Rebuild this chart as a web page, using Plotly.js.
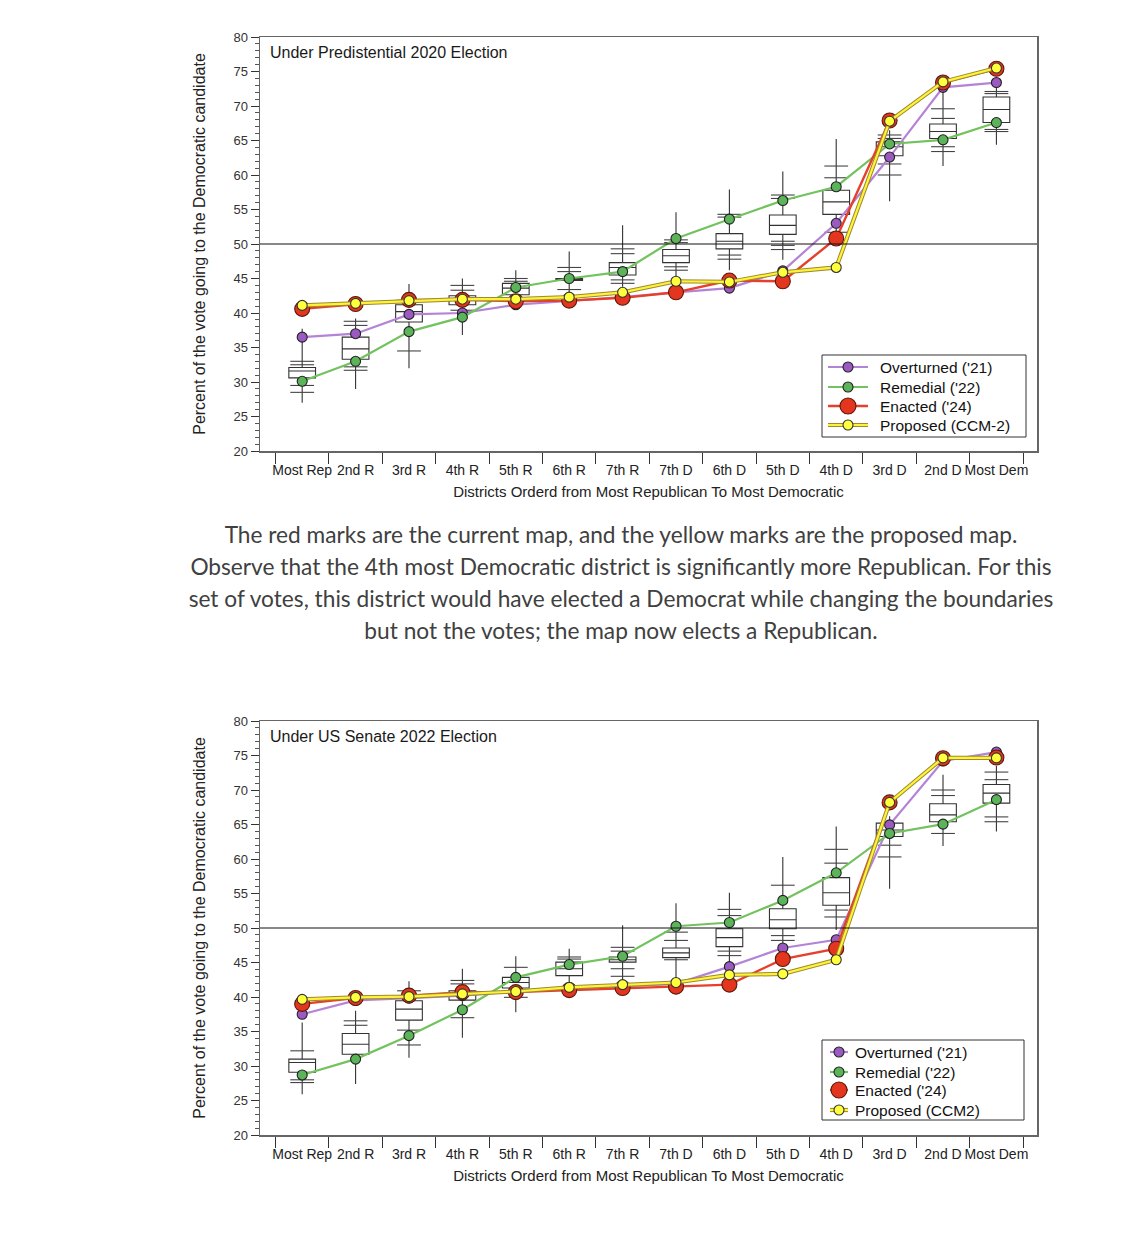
<!DOCTYPE html>
<html>
<head>
<meta charset="utf-8">
<script src="https://cdn.plot.ly/plotly-3.0.1.min.js"></script>
<style>
  html, body { margin: 0; padding: 0; background: #ffffff; width: 1140px; height: 1241px; overflow: hidden; }
  #chart1 { position: absolute; left: 0; top: 0; width: 1140px; height: 510px; }
  #chart2 { position: absolute; left: 0; top: 684px; width: 1140px; height: 510px; }
  #caption { position: absolute; left: 121px; top: 519px; width: 1000px; text-align: center;
             font-family: Lato, "Open Sans", sans-serif; font-size: 22.7px; line-height: 32px;
             color: #404040; white-space: nowrap; }
</style>
</head>
<body>
<div id="chart1"></div>
<div id="caption">The red marks are the current map, and the yellow marks are the proposed map.<br>Observe that the 4th most Democratic district is significantly more Republican. For this<br>set of votes, this district would have elected a Democrat while changing the boundaries<br>but not the votes; the map now elects a Republican.</div>
<div id="chart2"></div>
<script>
// ---------- shared ----------
const districts = ['Most Rep','2nd R','3rd R','4th R','5th R','6th R','7th R','7th D','6th D','5th D','4th D','3rd D','2nd D','Most Dem'];
const yTicks = [20,25,30,35,40,45,50,55,60,65,70,75,80];

// ---------- Chart 1: Presidential 2020 ----------
const overturned20 = [36.5, 37.0, 39.8, 40.0, 41.2, 41.7, 42.3, 43.0, 43.6, 46.1, 53.0, 62.6, 72.7, 73.4];
const remedial20   = [30.1, 33.0, 37.3, 39.4, 43.7, 45.0, 46.0, 50.8, 53.6, 56.3, 58.3, 64.5, 65.1, 67.6];
const enacted20    = [40.6, 41.3, 41.9, 41.9, 41.7, 41.8, 42.2, 43.0, 44.7, 44.6, 50.8, 67.9, 73.4, 75.4];
const proposed20   = [41.1, 41.4, 41.8, 42.0, 42.0, 42.3, 43.0, 44.6, 44.5, 45.9, 46.6, 67.8, 73.5, 75.5];
const boxQ1_20     = [30.6, 33.3, 38.7, 41.2, 42.65, 44.7, 45.5, 47.3, 49.3, 51.4, 54.3, 62.8, 65.3, 67.6];
const boxMed20     = [31.6, 34.8, 40.2, 41.85, 43.6, 44.85, 46.6, 48.3, 50.4, 52.7, 56.1, 64.1, 66.3, 69.5];
const boxQ3_20     = [32.1, 36.5, 41.2, 42.5, 44.3, 45.0, 47.3, 49.2, 51.5, 54.2, 57.8, 64.8, 67.4, 71.3];
const boxLo20      = [27.0, 29.0, 32.0, 36.8, 40.5, 42.4, 43.8, 43.6, 46.2, 47.7, 50.0, 56.2, 61.3, 64.4];
const boxHi20      = [37.7, 39.2, 44.2, 45.0, 46.2, 48.9, 52.7, 54.6, 57.9, 60.5, 65.2, 66.5, 72.2, 72.7];
const crosses20    = [[33.0, 32.5, 29.5, 28.5], [38.8, 38.2, 32.2, 31.7], [34.5], [44.0, 43.3, 40.4],
                      [45.0, 44.6], [46.6, 46.0, 43.4], [49.3, 48.6, 44.8, 44.3], [50.6, 50.2, 46.7, 46.2],
                      [54.3, 53.9, 48.4, 47.8], [57.1, 56.6, 50.4, 49.8, 49.2], [61.3, 59.6, 51.7],
                      [65.8, 65.3, 61.6, 60.0], [69.6, 68.2, 64.1, 63.4], [72.1, 71.8, 66.6, 66.3]];
const title20 = 'Under Predistential 2020 Election';
const seriesNames20 = ["Overturned ('21)", "Remedial ('22)", "Enacted ('24)", 'Proposed (CCM-2)'];

// ---------- Chart 2: US Senate 2022 ----------
const overturned22 = [37.5, 39.5, 39.85, 40.2, 40.8, 41.2, 41.5, 41.9, 44.4, 47.1, 48.3, 64.95, 74.2, 75.5];
const remedial22   = [28.7, 31.0, 34.4, 38.15, 42.85, 44.7, 45.9, 50.25, 50.8, 54.0, 58.0, 63.7, 65.05, 68.6];
const enacted22    = [39.0, 39.85, 40.2, 40.7, 40.7, 41.0, 41.3, 41.5, 41.8, 45.5, 47.0, 68.2, 74.6, 74.7];
const proposed22   = [39.65, 39.95, 40.05, 40.45, 40.8, 41.4, 41.8, 42.1, 43.2, 43.35, 45.4, 68.2, 74.65, 74.65];
const boxQ1_22     = [29.1, 31.7, 36.65, 39.55, 41.3, 43.1, 45.05, 45.7, 47.3, 49.9, 53.3, 63.25, 65.4, 68.1];
const boxMed22     = [30.5, 33.15, 38.25, 40.3, 42.1, 44.1, 45.4, 46.4, 48.6, 51.2, 55.1, 64.2, 66.4, 69.55];
const boxQ3_22     = [31.0, 34.7, 39.45, 40.9, 42.85, 45.05, 45.8, 47.1, 49.9, 52.8, 57.3, 65.2, 68.0, 70.8];
const boxLo22      = [25.9, 27.4, 31.2, 34.1, 37.8, 41.65, 41.8, 42.4, 44.3, 46.0, 49.7, 55.7, 61.9, 64.0];
const boxHi22      = [36.3, 38.0, 42.3, 44.1, 45.9, 47.0, 50.4, 53.6, 55.1, 60.3, 64.7, 66.2, 72.2, 73.5];
const crosses22    = [[32.2, 28.0, 27.6], [36.55, 35.9], [40.9, 35.2, 33.05], [42.4, 41.9, 37.0],
                      [44.3, 39.95], [45.8, 45.5], [47.2, 46.65, 44.1, 43.0], [49.4, 48.2, 45.4],
                      [52.7, 51.8, 46.65, 46.0], [56.2, 48.9, 48.2], [61.4, 59.4, 52.6, 51.6],
                      [62.0, 60.3], [70.0, 69.2, 63.7], [72.6, 71.5, 66.1, 65.4]];
const title22 = 'Under US Senate 2022 Election';
const seriesNames22 = ["Overturned ('21)", "Remedial ('22)", "Enacted ('24)", 'Proposed (CCM2)'];

const FONT = 'Liberation Sans, Arial, Helvetica, sans-serif';

// series styles: purple, green, red, yellow
const STYLES = [
  { line: '#b583d6', fill: '#9b59c2', edge: '#222222', size: 10, lw: 2.2 },
  { line: '#72c25e', fill: '#5cb45a', edge: '#222222', size: 10, lw: 2.2 },
  { line: '#e6402c', fill: '#e4361f', edge: '#5a1a0c', size: 15, lw: 2.4 },
  { line: '#fff23a', fill: '#ffff3c', edge: '#333333', size: 10, lw: 2.2 }
];

// plot area in div pixels: x 260..1037, y 37..451
const PL = 260, PR = 1037, PT = 37, PB = 451;
const px = v => (v - PL) / (PR - PL);
const py = v => (PB - v) / (PB - PT);

function legendItems(names, box, rows, symX0, symX1, textX) {
  const shapes = [], anns = [];
  shapes.push({ type: 'rect', xref: 'paper', yref: 'paper', x0: px(box[0]), x1: px(box[1]),
                y0: py(box[3]), y1: py(box[2]), fillcolor: '#ffffff', line: { color: '#333333', width: 1 } });
  names.forEach((n, i) => {
    const s = STYLES[i], yy = py(rows[i]), cx = px((symX0 + symX1) / 2);
    if (i === 3) {
      shapes.push({ type: 'line', xref: 'paper', yref: 'paper', x0: px(symX0), x1: px(symX1), y0: yy, y1: yy,
                    line: { color: '#9c8a2c', width: 4.2 } });
    }
    shapes.push({ type: 'line', xref: 'paper', yref: 'paper', x0: px(symX0), x1: px(symX1), y0: yy, y1: yy,
                  line: { color: s.line, width: s.lw } });
    const r = (i === 2 ? 8 : 5);
    shapes.push({ type: 'circle', xref: 'paper', yref: 'paper', xsizemode: 'pixel', ysizemode: 'pixel',
                  xanchor: cx, yanchor: yy, x0: -r, x1: r, y0: -r, y1: r,
                  fillcolor: s.fill, line: { color: s.edge, width: 1.1 } });
    anns.push({ text: n, xref: 'paper', yref: 'paper', x: px(textX), y: yy, xanchor: 'left', yanchor: 'middle',
                showarrow: false, font: { family: FONT, size: 15.5, color: '#111111' } });
  });
  return { shapes, anns };
}

function buildChart(divId, o, r, e, p, q1, med, q3, lo, hi, crosses, title, names, leg) {
  const cx = [], cy = [];
  crosses.forEach((arr, i) => arr.forEach(v => { cx.push(districts[i]); cy.push(v); }));
  const series = [o, r, e, p];
  const traces = [
    { type: 'box', x: districts, q1: q1, median: med, q3: q3, lowerfence: lo, upperfence: hi,
      width: 0.5, whiskerwidth: 0, fillcolor: '#ffffff', line: { color: '#333333', width: 1.1 },
      boxpoints: false, showlegend: false, hoverinfo: 'skip' },
    { type: 'scatter', mode: 'markers', x: cx, y: cy, showlegend: false, hoverinfo: 'skip',
      marker: { symbol: 'line-ew', size: 17, line: { color: '#444444', width: 1.1 } } }
  ];
  series.forEach((vals, i) => {
    const s = STYLES[i];
    if (i === 3) {
      traces.push({ type: 'scatter', mode: 'lines', x: districts, y: vals, showlegend: false, hoverinfo: 'skip',
                    line: { color: '#9c8a2c', width: 4.2 } });
    }
    traces.push({ type: 'scatter', mode: 'lines+markers', name: names[i], x: districts, y: vals,
                  showlegend: false, line: { color: s.line, width: s.lw },
                  marker: { color: s.fill, size: s.size, line: { color: s.edge, width: 1.1 } } });
  });
  const L = legendItems(names, leg.box, leg.rows, leg.symX0, leg.symX1, leg.textX);
  const layout = {
    width: 1140, height: 510,
    margin: { l: PL, r: 1140 - PR, t: PT, b: 510 - PB },
    paper_bgcolor: '#ffffff', plot_bgcolor: '#ffffff',
    font: { family: FONT, size: 14, color: '#222222' },
    showlegend: false,
    xaxis: {
      type: 'category', categoryorder: 'array', categoryarray: districts,
      range: [-0.79, 13.76], tickson: 'boundaries', ticks: 'outside', ticklen: 11, tickangle: 0,
      ticklabelstandoff: 6,
      tickcolor: '#333333', tickwidth: 1, showgrid: false, zeroline: false,
      showline: true, linecolor: '#666666', linewidth: 1.5, mirror: true,
      tickfont: { family: FONT, size: 14, color: '#222222' },
      title: { text: 'Districts Orderd from Most Republican To Most Democratic',
               font: { family: FONT, size: 15, color: '#222222' }, standoff: 9 }
    },
    yaxis: {
      range: [20, 80], tickvals: yTicks, ticks: 'outside', ticklen: 8, tickcolor: '#333333',
      minor: { dtick: 1, ticks: 'outside', ticklen: 4, tickcolor: '#555555' },
      showgrid: false, zeroline: false, showline: true, linecolor: '#666666', linewidth: 1.5,
      mirror: true, tickfont: { family: FONT, size: 13, color: '#333333' },
      title: { text: 'Percent of the vote going to the Democratic candidate',
               font: { family: FONT, size: 16, color: '#222222' }, standoff: 24 }
    },
    shapes: [{ type: 'line', xref: 'paper', x0: 0, x1: 1, yref: 'y', y0: 50, y1: 50,
               line: { color: '#111111', width: 1 } }].concat(L.shapes),
    annotations: [{ text: title, xref: 'paper', yref: 'paper', x: 0.01, y: 1, xanchor: 'left',
                    yanchor: 'top', yshift: -5, showarrow: false,
                    font: { family: FONT, size: 16, color: '#1a1a1a' } }].concat(L.anns)
  };
  Plotly.newPlot(divId, traces, layout, { staticPlot: true, displayModeBar: false });
}

buildChart('chart1', overturned20, remedial20, enacted20, proposed20, boxQ1_20, boxMed20, boxQ3_20,
           boxLo20, boxHi20, crosses20, title20, seriesNames20,
           { box: [822, 1026, 355, 437], rows: [367, 387, 406, 425], symX0: 828, symX1: 868, textX: 878 });
buildChart('chart2', overturned22, remedial22, enacted22, proposed22, boxQ1_22, boxMed22, boxQ3_22,
           boxLo22, boxHi22, crosses22, title22, seriesNames22,
           { box: [822, 1024, 356, 436], rows: [368, 388, 406, 426], symX0: 830, symX1: 848, textX: 853 });
</script>
</body>
</html>
